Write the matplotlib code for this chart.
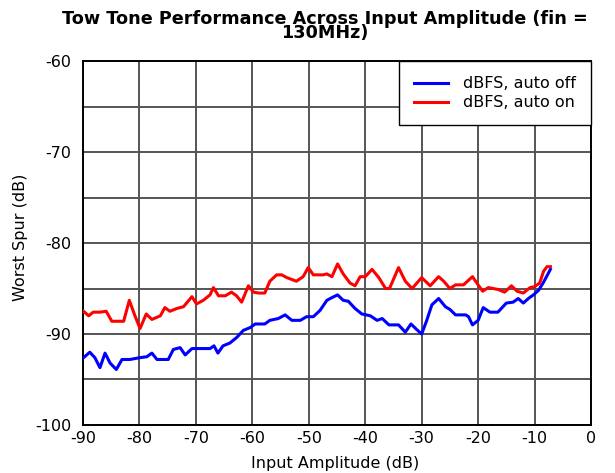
import matplotlib.pyplot as plt

# readings taken off the reference traces
off_x = [-89.9, -88.8, -87.9, -87.0, -86.1, -85.2, -84.1, -83.1, -81.7, -79.9,
         -78.7, -77.8, -76.9, -74.9, -74.0, -72.8, -71.9, -70.7, -69.3, -67.5,
         -66.8, -66.1, -65.2, -64.0, -62.8, -61.6, -60.4, -59.5, -57.8, -56.9,
         -55.4, -54.2, -53.0, -51.5, -50.4, -49.2, -48.0, -46.8, -45.9, -44.9,
         -43.9, -43.0, -41.8, -40.6, -39.1, -37.9, -37.0, -35.8, -34.1, -32.9,
         -31.9, -30.9, -30.0, -29.1, -28.2, -27.0, -25.8, -25.0, -24.0, -22.2,
         -21.7, -21.0, -20.0, -19.1, -17.9, -16.5, -15.0, -13.8, -12.9, -12.0,
         -11.1, -10.2, -9.3, -8.4, -7.2]
off_y = [-92.6, -92.0, -92.6, -93.7, -92.1, -93.2, -93.9, -92.8, -92.8, -92.6,
         -92.5, -92.1, -92.8, -92.8, -91.7, -91.5, -92.3, -91.6, -91.6, -91.6,
         -91.3, -92.1, -91.3, -91.0, -90.4, -89.6, -89.3, -88.9, -88.9, -88.5,
         -88.3, -87.9, -88.5, -88.5, -88.1, -88.1, -87.4, -86.3, -86.0, -85.7,
         -86.3, -86.4, -87.2, -87.8, -88.0, -88.5, -88.3, -89.0, -89.0, -89.8,
         -88.9, -89.5, -90.0, -88.5, -86.8, -86.1, -87.0, -87.3, -87.9, -87.9,
         -88.1, -89.0, -88.5, -87.1, -87.6, -87.6, -86.6, -86.5, -86.1, -86.6,
         -86.1, -85.7, -85.2, -84.3, -82.9]

on_x = [-89.9, -89.0, -88.2, -87.0, -85.9, -84.9, -82.8, -81.8, -80.8, -79.9,
        -78.8, -77.8, -76.3, -75.5, -74.6, -73.4, -72.2, -70.7, -69.9, -68.7,
        -67.5, -66.9, -66.0, -64.8, -63.7, -62.8, -61.9, -60.7, -59.8, -58.9,
        -57.8, -56.9, -55.7, -54.8, -53.9, -52.2, -51.0, -50.1, -49.2, -47.5,
        -46.8, -45.9, -44.9, -43.9, -42.7, -41.8, -40.9, -40.0, -38.8, -37.6,
        -36.4, -35.7, -34.1, -32.9, -31.7, -30.0, -28.5, -27.0, -26.1, -25.0,
        -24.0, -22.6, -21.0, -20.0, -19.2, -18.2, -16.5, -15.3, -14.1, -13.1,
        -12.0, -10.8, -10.0, -9.1, -8.4, -7.8, -7.2]
on_y = [-87.5, -88.0, -87.6, -87.6, -87.5, -88.6, -88.6, -86.3, -88.0, -89.4,
        -87.8, -88.4, -88.0, -87.1, -87.5, -87.2, -87.0, -85.9, -86.7, -86.3,
        -85.7, -84.9, -85.8, -85.8, -85.4, -85.8, -86.5, -84.7, -85.4, -85.5,
        -85.5, -84.2, -83.5, -83.5, -83.8, -84.2, -83.7, -82.7, -83.5, -83.5,
        -83.4, -83.7, -82.3, -83.4, -84.4, -84.7, -83.7, -83.7, -82.9, -83.8,
        -85.0, -85.0, -82.7, -84.2, -85.0, -83.8, -84.7, -83.7, -84.2, -85.0,
        -84.6, -84.6, -83.7, -84.6, -85.3, -84.9, -85.1, -85.4, -84.7, -85.3,
        -85.5, -84.9, -84.8, -84.4, -83.1, -82.6, -82.6]

x_ticks = [-90, -80, -70, -60, -50, -40, -30, -20, -10, 0]
y_ticks = [-100, -90, -80, -70, -60]
title = 'Tow Tone Performance Across Input Amplitude (fin =\n130MHz)'

plt.rcParams['font.family'] = ['DejaVu Sans']
plt.rcParams['axes.unicode_minus'] = False

fig = plt.figure(figsize=(6.15, 4.73), dpi=100)
ax = fig.add_axes([0.135, 0.1015, 0.826, 0.7695])

ax.plot(off_x, off_y, color='#0000ff', lw=2.2, label='dBFS, auto off', zorder=3)
ax.plot(on_x, on_y, color='#ff0000', lw=2.2, label='dBFS, auto on', zorder=3)

ax.set_xlim(-90, 0)
ax.set_ylim(-100, -60)
ax.set_xticks(x_ticks)
ax.set_yticks(y_ticks)
ax.set_yticks(range(-95, -60, 10), minor=True)
ax.grid(True, which='both', color='#555555', lw=1.4)
ax.tick_params(which='both', length=0, labelsize=11.5)
ax.tick_params(axis='y', pad=8.5)
ax.tick_params(axis='x', pad=4)
for s in ax.spines.values():
    s.set_color('black')
    s.set_linewidth(1.4)

ax.set_xlabel('Input Amplitude (dB)', fontsize=11.5, va='center')
ax.xaxis.set_label_coords(0.496, -0.107)
ax.set_ylabel('Worst Spur (dB)', fontsize=11.5, va='center')
ax.yaxis.set_label_coords(-0.124, 0.516)

# one title text, lines packed tight like the reference
fig.text(0.528, 1 - 10 / 473, title, ha='center', va='top',
         fontsize=12.7, fontweight='bold', linespacing=0.68)

leg = ax.legend(loc='upper right', fontsize=11.5, frameon=True, fancybox=False,
                borderaxespad=0, handlelength=2.1, labelspacing=0.25,
                borderpad=0.95, handletextpad=0.95)
leg.get_frame().set_edgecolor('black')
leg.get_frame().set_linewidth(1.0)
leg.get_frame().set_alpha(1.0)

fig.savefig('out.png', dpi=100)
